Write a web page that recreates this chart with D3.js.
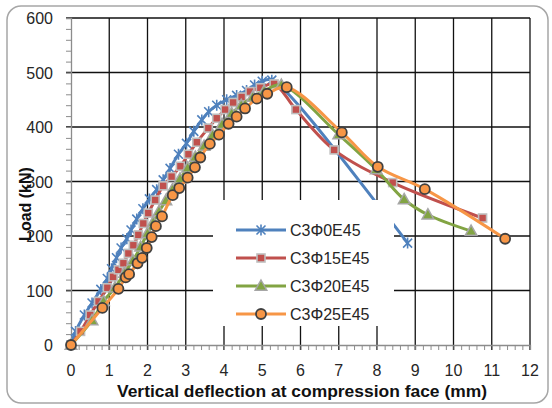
<!DOCTYPE html>
<html>
<head>
<meta charset="utf-8">
<script src="https://cdn.jsdelivr.net/npm/d3@7"></script>
<style>
  html, body { margin: 0; padding: 0; background: #fff; }
  svg { display: block; font-family: "Liberation Sans", Arial, sans-serif; }
</style>
</head>
<body>
<svg id="chart" width="552" height="408"></svg>
<script>
// Load–deflection curves for four specimens
const seriesNames = ["C3\u03A60E45", "C3\u03A615E45", "C3\u03A620E45", "C3\u03A625E45"];
const seriesColors = ["#4F81BD", "#C0504D", "#82A443", "#F79646"];

const defl0 = [0, 0.12, 0.35, 0.55, 0.78, 0.95, 1.06, 1.19, 1.31, 1.46, 1.57, 1.72, 1.88, 2.05, 2.24, 2.41, 2.59, 2.81, 3.02, 3.21, 3.42, 3.6, 3.81, 4.07, 4.33, 4.59, 4.8, 5.0, 5.25, 8.15, 8.8];
const load0 = [0, 25, 55, 77, 102, 122, 140, 160, 178, 195, 211, 231, 250, 268, 285, 303, 324, 350, 370, 392, 413, 428, 440, 450, 458, 467, 477, 484, 486, 246, 187];

const defl15 = [0, 0.25, 0.5, 0.72, 0.95, 1.1, 1.24, 1.37, 1.5, 1.63, 1.76, 1.89, 2.02, 2.2, 2.41, 2.63, 2.86, 3.07, 3.29, 3.59, 3.81, 4.03, 4.24, 4.46, 4.68, 4.95, 5.31, 5.88, 6.88, 8.41, 10.76];
const load15 = [0, 25, 55, 80, 105, 125, 138, 150, 168, 183, 202, 223, 242, 266, 292, 309, 328, 350, 372, 398, 416, 432, 445, 455, 465, 472, 479, 432, 358, 298, 233];

const defl20 = [0, 0.55, 0.85, 1.15, 1.4, 1.62, 1.82, 2.0, 2.15, 2.3, 2.48, 2.65, 2.85, 3.05, 3.25, 3.48, 3.7, 3.95, 4.2, 4.45, 4.75, 5.05, 5.5, 7.0, 7.98, 8.71, 9.33, 10.46];
const load20 = [0, 45, 80, 105, 132, 155, 180, 205, 225, 245, 265, 285, 305, 325, 345, 365, 385, 405, 425, 440, 455, 466, 477, 386, 322, 267, 239, 209];

const defl25 = [0, 0.82, 1.24, 1.43, 1.52, 1.74, 1.86, 1.98, 2.11, 2.22, 2.38, 2.66, 2.83, 3.05, 3.24, 3.38, 3.63, 3.87, 4.12, 4.33, 4.55, 4.86, 5.13, 5.64, 7.08, 8.02, 9.25, 11.35];
const load25 = [0, 68, 103, 124, 130, 150, 160, 178, 198, 218, 236, 275, 288, 307, 326, 344, 369, 386, 406, 419, 434, 452, 461, 473, 390, 327, 286, 195];

const xTicks = d3.range(0, 13, 1);
const yTicks = d3.range(0, 601, 100);
const xTitle = "Vertical deflection at compression face (mm)";
const yTitle = "Load (kN)";

const series = [
  { name: seriesNames[0], color: seriesColors[0], marker: "star",     pts: d3.zip(defl0, load0) },
  { name: seriesNames[1], color: seriesColors[1], marker: "square",   pts: d3.zip(defl15, load15) },
  { name: seriesNames[2], color: seriesColors[2], marker: "triangle", pts: d3.zip(defl20, load20) },
  { name: seriesNames[3], color: seriesColors[3], marker: "circle",   pts: d3.zip(defl25, load25) }
];

const svg = d3.select("#chart");
const plot = { left: 71, right: 530, top: 18, bottom: 345 };

const x = d3.scaleLinear().domain([0, 12]).range([plot.left, plot.right]);
const y = d3.scaleLinear().domain([0, 600]).range([plot.bottom, plot.top]);

// outer frame
svg.append("rect")
  .attr("x", 7).attr("y", 6).attr("width", 541).attr("height", 397)
  .attr("rx", 14).attr("ry", 14)
  .attr("fill", "#fff").attr("stroke", "#a6a6a6").attr("stroke-width", 1.5);

// gridlines
const grid = svg.append("g");
grid.selectAll("line.v").data(xTicks.slice(1)).join("line")
  .attr("x1", d => x(d)).attr("x2", d => x(d))
  .attr("y1", plot.top).attr("y2", plot.bottom + 5)
  .attr("stroke", "#111").attr("stroke-width", 1.3);
grid.selectAll("line.h").data(yTicks.slice(1)).join("line")
  .attr("x1", plot.left - 5).attr("x2", plot.right)
  .attr("y1", d => y(d)).attr("y2", d => y(d))
  .attr("stroke", "#111").attr("stroke-width", 1.3);

// axes with minor ticks
const xAxis = d3.axisBottom(x).tickValues(d3.range(0, 12.01, 0.2)).tickSize(5).tickFormat("");
const gx = svg.append("g").attr("transform", `translate(0,${plot.bottom})`).call(xAxis);
const yAxis = d3.axisLeft(y).tickValues(d3.range(0, 601, 20)).tickSize(5).tickFormat("");
const gy = svg.append("g").attr("transform", `translate(${plot.left},0)`).call(yAxis);
[gx, gy].forEach(g => {
  g.select(".domain").attr("stroke", "#8c8c8c").attr("stroke-width", 1.3);
  g.selectAll(".tick line").attr("stroke", "#8c8c8c").attr("stroke-width", 1);
});

// tick labels
svg.append("g").selectAll("text").data(xTicks).join("text")
  .attr("x", d => x(d)).attr("y", 376)
  .attr("text-anchor", "middle").attr("font-size", 16).attr("fill", "#262626")
  .text(d => d);
svg.append("g").selectAll("text").data(yTicks).join("text")
  .attr("x", 53).attr("y", d => y(d) + 6)
  .attr("text-anchor", "end").attr("font-size", 16).attr("fill", "#262626")
  .text(d => d);

// axis titles
svg.append("text")
  .attr("x", 302).attr("y", 397).attr("text-anchor", "middle")
  .attr("font-size", 16).attr("font-weight", "bold").attr("fill", "#111")
  .attr("textLength", 370).attr("lengthAdjust", "spacingAndGlyphs")
  .text(xTitle);
svg.append("text")
  .attr("transform", "translate(31,204) rotate(-90)").attr("text-anchor", "middle")
  .attr("font-size", 16).attr("font-weight", "bold").attr("fill", "#111")
  .text(yTitle);

// marker drawing
function drawMarker(g, type, color) {
  if (type === "star") {
    const s = 4.5;
    g.append("path")
      .attr("d", `M${-s},${-s}L${s},${s}M${-s},${s}L${s},${-s}M0,${-s - 1}L0,${s + 1}`)
      .attr("fill", "none").attr("stroke", color).attr("stroke-width", 1.6);
  } else if (type === "square") {
    g.append("rect").attr("x", -4).attr("y", -4).attr("width", 8).attr("height", 8)
      .attr("fill", color).attr("stroke", "#bfbfbf").attr("stroke-width", 1.6);
  } else if (type === "triangle") {
    g.append("path").attr("d", "M0,-6L5.8,4.2L-5.8,4.2Z")
      .attr("fill", color).attr("stroke", "#a6a6a6").attr("stroke-width", 1.5);
  } else {
    g.append("circle").attr("r", 5)
      .attr("fill", color).attr("stroke", "#404040").attr("stroke-width", 1.8);
  }
}

const line = d3.line()
  .x(d => x(d[0])).y(d => y(d[1]))
  .curve(d3.curveCatmullRom.alpha(0.5));

const layer = svg.append("g");
series.forEach(s => {
  const g = layer.append("g");
  g.append("path").attr("d", line(s.pts))
    .attr("fill", "none").attr("stroke", s.color).attr("stroke-width", 3)
    .attr("stroke-linejoin", "round").attr("stroke-linecap", "round");
  s.pts.forEach(p => {
    drawMarker(g.append("g").attr("transform", `translate(${x(p[0])},${y(p[1])})`), s.marker, s.color);
  });
});

// legend
const legend = svg.append("g");
legend.append("rect").attr("x", 213).attr("y", 200).attr("width", 181).attr("height", 126).attr("fill", "#fff");
series.forEach((s, i) => {
  const cy = 230 + i * 28;
  const g = legend.append("g");
  g.append("line").attr("x1", 236).attr("x2", 286).attr("y1", cy).attr("y2", cy)
    .attr("stroke", s.color).attr("stroke-width", 3);
  drawMarker(g.append("g").attr("transform", `translate(261,${cy})`), s.marker, s.color);
  g.append("text").attr("x", 290).attr("y", cy + 6).attr("font-size", 16).attr("fill", "#262626")
    .text(s.name);
});
</script>
</body>
</html>
